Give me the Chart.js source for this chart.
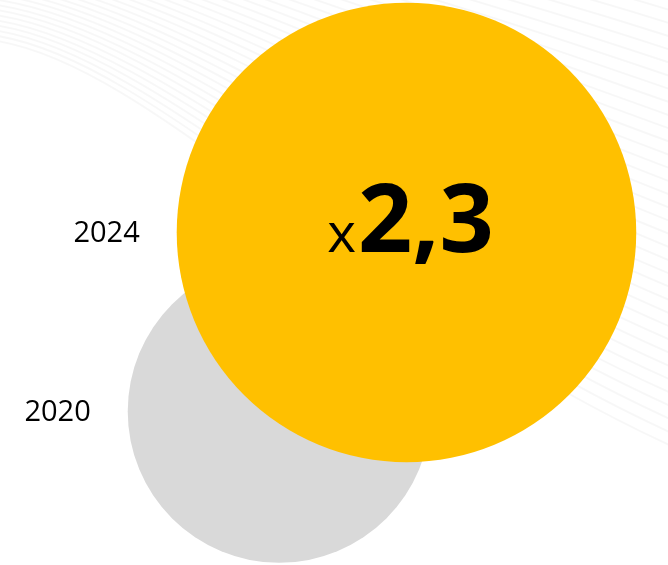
<!DOCTYPE html>
<html>
<head>
<meta charset="utf-8">
<script src="https://cdn.jsdelivr.net/npm/chart.js@4/dist/chart.umd.min.js"></script>
<style>
    html, body { margin: 0; padding: 0; background: #ffffff; }
    #wrap { width: 668px; height: 565px; position: relative; }
</style>
</head>
<body>
<div id="wrap"><canvas id="bubbleChart"></canvas></div>
<script>
var categories = ['2020', '2024'];
var values = [1, 2.3];
var ratioPrefix = 'x';
var ratioText = '2,3';

// bubble centres, in the hidden 0..100 scale units
var posX = [41.8, 60.85];
var posY = [27.2, 58.85];

(function () {
    var baseRadius = 151.5;
    var colors = ['#d9d9d9', '#ffc000'];

    var points = values.map(function (value, i) {
        return {
            x: posX[i],
            y: posY[i],
            r: baseRadius * Math.sqrt(value)
        };
    });

    function lerp(a, b, t) {
        return a + (b - a) * t;
    }

    // faint swoosh lines behind the bubbles
    var backgroundLines = {
        id: 'backgroundLines',
        beforeDatasetsDraw: function (chart) {
            var ctx = chart.ctx;
            var inner = [[-10, 40], [150, 60], [350, 300], [680, 450]];
            var outer = [[-10, -135], [200, -110], [450, -70], [680, 0]];
            var count = 34;
            ctx.save();
            ctx.lineWidth = 2;
            ctx.strokeStyle = 'rgba(0, 0, 0, 0.03)';
            for (var k = 0; k <= count; k++) {
                var t = k / count;
                var p = inner.map(function (pt, j) {
                    return [lerp(pt[0], outer[j][0], t), lerp(pt[1], outer[j][1], t)];
                });
                ctx.beginPath();
                ctx.moveTo(p[0][0], p[0][1]);
                ctx.bezierCurveTo(p[1][0], p[1][1], p[2][0], p[2][1], p[3][0], p[3][1]);
                ctx.stroke();
            }
            ctx.restore();
        }
    };

    var bubbleLabels = {
        id: 'bubbleLabels',
        afterDatasetsDraw: function (chart) {
            var ctx = chart.ctx;
            var meta = chart.getDatasetMeta(0);
            ctx.save();
            ctx.fillStyle = '#000000';
            ctx.textBaseline = 'middle';
            ctx.textAlign = 'right';
            ctx.font = '29px "Open Sans"';
            meta.data.forEach(function (el, i) {
                var r = points[i].r;
                ctx.fillText(categories[i], el.x - r - 37, el.y + 1);
            });

            // ratio text in the biggest bubble
            var big = meta.data[meta.data.length - 1];
            ctx.textBaseline = 'alphabetic';
            ctx.textAlign = 'left';
            ctx.font = 'bold 95px "Open Sans"';
            var numW = ctx.measureText(ratioText).width;
            ctx.font = '55px "Open Sans"';
            var preW = ctx.measureText(ratioPrefix).width;
            var startX = big.x - (preW + numW) / 2 + 3;
            var base = big.y + 20;
            ctx.fillText(ratioPrefix, startX, base);
            ctx.font = 'bold 95px "Open Sans"';
            ctx.fillText(ratioText, startX + preW + 2, base);
            ctx.restore();
        }
    };

    new Chart(document.getElementById('bubbleChart'), {
        type: 'bubble',
        data: {
            labels: categories,
            datasets: [
                {
                    data: points,
                    backgroundColor: colors,
                    hoverBackgroundColor: colors,
                    borderWidth: 0,
                    hoverBorderWidth: 0,
                    clip: false
                }
            ]
        },
        options: {
            responsive: true,
            maintainAspectRatio: false,
            animation: false,
            layout: { padding: 0, autoPadding: false },
            scales: {
                x: { type: 'linear', min: 0, max: 100, display: false },
                y: { type: 'linear', min: 0, max: 100, display: false }
            },
            plugins: {
                legend: { display: false },
                tooltip: { enabled: false }
            }
        },
        plugins: [backgroundLines, bubbleLabels]
    });
})();
</script>
</body>
</html>
